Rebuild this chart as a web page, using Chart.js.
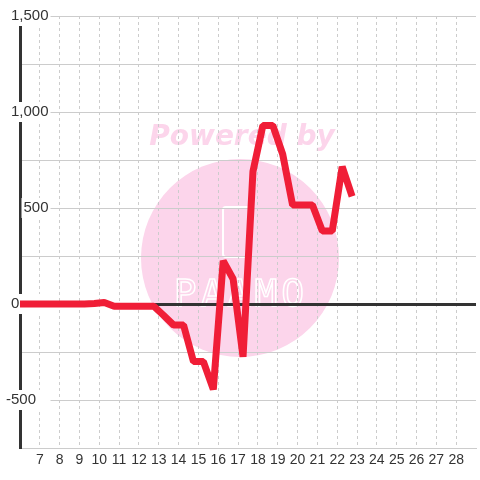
<!DOCTYPE html>
<html>
<head>
<meta charset="utf-8">
<script src="https://cdn.jsdelivr.net/npm/chart.js@4"></script>
<style>
  html, body { margin: 0; padding: 0; background: #fff; }
  #wrap { width: 480px; height: 480px; }
</style>
</head>
<body>
<div id="wrap"><canvas id="lineChart"></canvas></div>
<script>
// Data (half-day steps)
const xValues = [5.75, 6.25, 6.75, 7.25, 7.75, 8.25, 8.75, 9.25, 9.75, 10.25,
                 10.75, 11.25, 11.75, 12.25, 12.75, 13.25, 13.75, 14.25, 14.75, 15.25,
                 15.75, 16.25, 16.75, 17.25, 17.75, 18.25, 18.75, 19.25, 19.75, 20.25,
                 20.75, 21.25, 21.75, 22.25, 22.75];
const yValues = [0, 0, 0, 0, 0, 0, 0, 0, 3, 8,
                 -12, -12, -12, -12, -12, -60, -110, -110, -300, -300,
                 -445, 225, 130, -275, 690, 930, 930, 780, 515, 515,
                 515, 380, 380, 715, 560];
const xTickMin = 6;
const xTickMax = 29;
const yTickMin = -750;
const yTickMax = 1500;

Chart.defaults.font.family = '"Liberation Sans", Arial, sans-serif';
Chart.defaults.color = '#333';

// the original labels are not all aligned the same way, pad some of them
const yLabel = (v) => {
    if (v % 500 !== 0) return '';
    let s = v.toLocaleString('en-US');
    if (v === 0) s += '       ';
    if (v === -500) s += '   ';
    return s;
};

// pink "Powered by" watermark behind the grid
const watermark = {
    id: 'watermark',
    beforeDraw(chart) {
        const c = chart.ctx;
        c.save();
        c.fillStyle = '#fcd5eb';
        c.beginPath();
        c.arc(240, 258, 99, 0, Math.PI * 2);
        c.fill();
        c.font = 'italic bold 28px "DejaVu Sans"';
        c.textAlign = 'center';
        c.textBaseline = 'alphabetic';
        c.fillText('Powered by', 242, 145);
        c.strokeStyle = '#fff';
        c.lineWidth = 2;
        c.beginPath();
        c.roundRect(223, 207, 27, 50, 3);
        c.stroke();
        c.font = '38px "DejaVu Sans Mono"';
        c.letterSpacing = '4px';
        c.lineWidth = 1.5;
        c.strokeText('PAAMO', 241, 306);
        c.restore();
    }
};

const ctx = document.getElementById('lineChart').getContext('2d');
const lineChart = new Chart(ctx, {
    type: 'line',
    data: {
        datasets: [{
            data: xValues.map((x, i) => ({x: x, y: yValues[i]})),
            borderColor: '#f01e37',
            borderWidth: 7,
            borderJoinStyle: 'bevel',
            pointRadius: 0,
            tension: 0,
            fill: false
        }]
    },
    options: {
        responsive: true,
        maintainAspectRatio: false,
        animation: false,
        layout: { padding: { top: 16, right: 0, left: 0, bottom: 0 } },
        scales: {
            x: {
                type: 'linear',
                min: xTickMin,
                max: xTickMax,
                afterFit: (scale) => { scale.height = 32; },
                ticks: {
                    stepSize: 1,
                    autoSkip: false,
                    maxRotation: 0,
                    padding: 4,
                    font: { size: 14 },
                    callback: (v) => (v >= 7 && v <= 28) ? String(v) : ''
                },
                grid: {
                    drawTicks: false,
                    color: (c) => (c.tick && (c.tick.value === xTickMin || c.tick.value === xTickMax)) ? 'rgba(0,0,0,0)' : '#ccc',
                    lineWidth: 1
                },
                border: { display: true, color: '#ccc', width: 1, dash: [3, 3] }
            },
            y: {
                min: yTickMin,
                max: yTickMax,
                afterFit: (scale) => { scale.width = 20; },
                ticks: {
                    stepSize: 250,
                    mirror: true,
                    crossAlign: 'far',
                    padding: -14,
                    font: { size: 15 },
                    showLabelBackdrop: (c) => c.tick && c.tick.value % 500 === 0,
                    backdropColor: '#fff',
                    backdropPadding: { top: 1, bottom: 1, left: 2, right: 2 },
                    callback: yLabel
                },
                grid: {
                    drawTicks: false,
                    color: (c) => (c.tick && c.tick.value === 0) ? '#333' : '#ccc',
                    lineWidth: (c) => (c.tick && c.tick.value === 0) ? 3 : 1
                },
                border: { display: true, color: '#333', width: 3 }
            }
        },
        plugins: {
            legend: { display: false },
            tooltip: { enabled: false }
        }
    },
    plugins: [watermark]
});
</script>
</body>
</html>
